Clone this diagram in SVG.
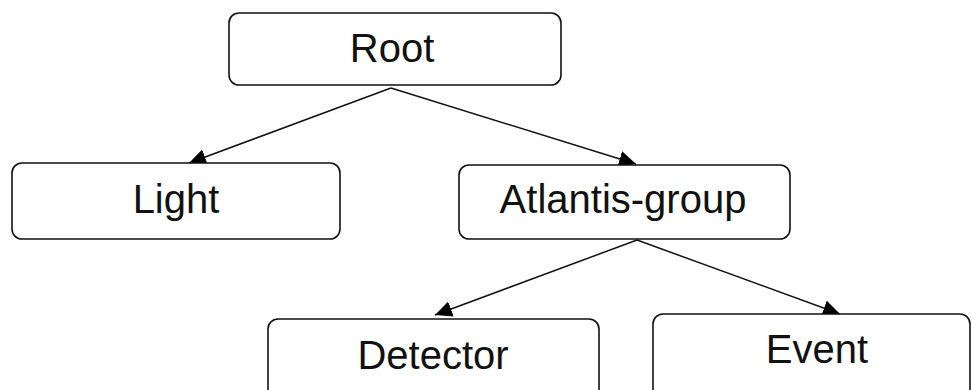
<svg xmlns="http://www.w3.org/2000/svg" width="972" height="390" viewBox="0 0 972 390">
<defs>
<style>
.box{fill:#fff;stroke:#111;stroke-width:1.6}
.lbl{font-family:"Liberation Sans",Arial,sans-serif;font-size:40px;fill:#111;text-anchor:middle}
.edge{stroke:#111;stroke-width:1.5;fill:none}
</style>
<marker id="ah" markerUnits="userSpaceOnUse" markerWidth="18" markerHeight="16" refX="17" refY="8" orient="auto">
<path d="M0,0 L17,8 L0,16 Z" fill="#000"/>
</marker>
</defs>
<rect width="972" height="390" fill="#fff"/>
<g id="edges">
<line class="edge" x1="391" y1="88" x2="189" y2="163" marker-end="url(#ah)"/>
<line class="edge" x1="391" y1="88" x2="636" y2="164" marker-end="url(#ah)"/>
<line class="edge" x1="637" y1="240" x2="435" y2="315" marker-end="url(#ah)"/>
<line class="edge" x1="637" y1="240" x2="840" y2="314" marker-end="url(#ah)"/>
</g>
<g id="root">
<rect class="box" x="229" y="13" width="332" height="72" rx="10"/>
<text class="lbl" x="392" y="62">Root</text>
</g>
<g id="light">
<rect class="box" x="12" y="163" width="328" height="76" rx="10"/>
<text class="lbl" x="176" y="213">Light</text>
</g>
<g id="atlantis-group">
<rect class="box" x="459" y="165" width="331" height="74" rx="10"/>
<text class="lbl" x="623" y="213">Atlantis-group</text>
</g>
<g id="detector">
<rect class="box" x="268" y="319" width="331" height="90" rx="10"/>
<text class="lbl" x="433" y="369">Detector</text>
</g>
<g id="event">
<rect class="box" x="653" y="314" width="317" height="95" rx="10"/>
<text class="lbl" x="817" y="363">Event</text>
</g>
</svg>
